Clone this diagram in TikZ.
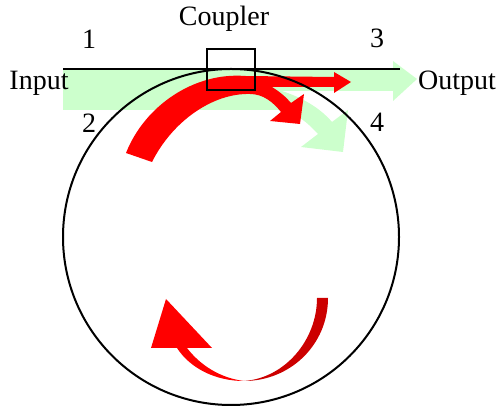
\documentclass[tikz,border=0pt]{standalone}
\usepackage{fontspec}
\setmainfont{Liberation Serif}
\tikzset{
    mylabel/.style = {
        inner sep=0pt,
        font=\fontsize{14}{16}\selectfont
    },
    mywire/.style = {
        draw=black,
        line width=1pt
    },
    mycoupler/.style = {
        rectangle,
        draw=black,
        line width=0.8pt,
        minimum width=24pt,
        minimum height=20.5pt,
        inner sep=0pt
    },
    myinput/.style = {
        fill=green!20
    },
    mylight/.style = {
        fill=red
    },
    mydark/.style = {
        fill=red!80!black
    }
}

\begin{document}
\begin{tikzpicture}[x=0.5pt, y=-0.5pt]
\useasboundingbox (0,0) rectangle (497,410);

% Green beam
\fill [myinput] (63,70) -- (393,70) -- (393,61) -- (417,79) -- (393,101) -- (393,91) -- (282,91)
    .. controls (303,98) and (320,108) .. (332,122) -- (348,110) -- (343,152) -- (301,147) -- (318,134)
    .. controls (307,122) and (295,112) .. (280,110) -- (63,110) -- cycle;

% Red beam
\fill [mylight] (126,153) .. controls (145,105) and (195,72) .. (245,76) -- (334,77) -- (334,72)
    -- (351,82) -- (334,93) -- (334,87) -- (272,87) .. controls (280,92) and (286,97) .. (291,103)
    -- (304,94) -- (300,124) -- (270,121) -- (281,112) .. controls (273,102) and (263,94) .. (250,94)
    .. controls (212,93) and (172,122) .. (152,162) -- cycle;

% Lower arrow
\fill [mydark] (317,298) -- (328,298) .. controls (328,345) and (290,381) .. (244,381)
    .. controls (285,378) and (317,340) .. (317,298) -- cycle;
\fill [mylight] (244,381) .. controls (215,381) and (190,368) .. (177,348) -- (151,348) -- (166,299)
    -- (212,348) -- (187,348) .. controls (200,365) and (220,378) .. (244,381) -- cycle;

% Waveguides
\coordinate (start) at (63,69);
\coordinate (stop) at (400,69);
\draw [mywire] (start) -- (stop);
\draw [mywire] (231,237) circle [radius=168];
\node (coupler) [mycoupler] at (231,69.5) {};

% Labels
\node (title) [mylabel] at (224,19) {Coupler};
\node (one) [mylabel] at (89,39) {1};
\node (two) [mylabel] at (89,123) {2};
\node (three) [mylabel] at (377,38) {3};
\node (four) [mylabel] at (377,122) {4};
\node (input) [mylabel] at (39,83) {Input};
\node (output) [mylabel] at (457,83) {Output};

\end{tikzpicture}
\end{document}
